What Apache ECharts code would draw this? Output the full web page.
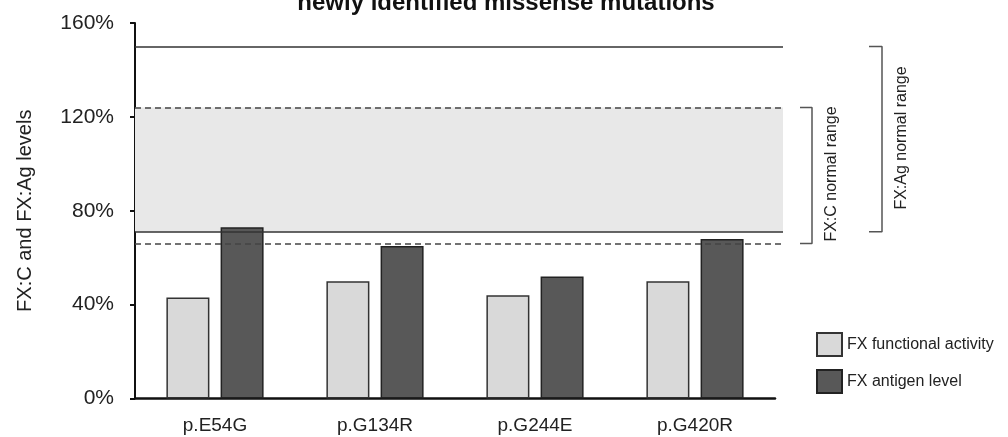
<!DOCTYPE html>
<html>
<head>
<meta charset="utf-8">
<script src="https://cdn.jsdelivr.net/npm/echarts@6/dist/echarts.min.js"></script>
<style>
html,body{margin:0;padding:0;background:#fff;}
#chart{width:1008px;height:437px;}
</style>
</head>
<body>
<div id="chart"></div>
<script>
var categories = ['p.E54G', 'p.G134R', 'p.G244E', 'p.G420R'];
var functionalActivity = [43, 50, 44, 50];
var antigenLevel = [73, 65, 52, 68];
var fxcRange = [66, 124];
var fxagRange = [71, 150];
var yTicks = [0, 40, 80, 120, 160];
var seriesNames = ['FX functional activity', 'FX antigen level'];

var FONT = '"Liberation Sans", Arial, sans-serif';
function bracket(r) { return [[0, r[1]], [1, r[1]], [1, r[0]], [0, r[0]]]; }

var chart = echarts.init(document.getElementById('chart'));
chart.setOption({
  animation: false,
  textStyle: { fontFamily: FONT },
  grid: [
    { left: 135, right: 233, top: 23, bottom: 38.5 },
    { left: 135, right: 225, top: 23, bottom: 38.5 },
    { left: 800, width: 12, top: 23, bottom: 38.5 },
    { left: 869, width: 13, top: 23, bottom: 38.5 }
  ],
  xAxis: [
    { type: 'category', gridIndex: 0, data: categories,
      axisLine: { lineStyle: { color: '#111', width: 2.5 } },
      axisTick: { show: false },
      axisLabel: { color: '#222', fontSize: 19, margin: 18, fontFamily: FONT } },
    { type: 'value', gridIndex: 1, min: 0, max: 1, show: false },
    { type: 'value', gridIndex: 2, min: 0, max: 1, show: false },
    { type: 'value', gridIndex: 3, min: 0, max: 1, show: false }
  ],
  yAxis: [
    { type: 'value', gridIndex: 0, min: yTicks[0], max: yTicks[yTicks.length - 1], interval: 40,
      name: 'FX:C and FX:Ag levels', nameLocation: 'middle', nameGap: 100,
      nameTextStyle: { fontSize: 20, color: '#222', fontFamily: FONT },
      axisLine: { show: true, lineStyle: { color: '#111', width: 2 } },
      axisTick: { show: true, length: 5, lineStyle: { color: '#111', width: 2 } },
      splitLine: { show: false },
      axisLabel: { formatter: '{value}%', fontSize: 21, color: '#222', margin: 21, fontFamily: FONT } },
    { type: 'value', gridIndex: 1, min: 0, max: 160, show: false },
    { type: 'value', gridIndex: 2, min: 0, max: 160, show: false },
    { type: 'value', gridIndex: 3, min: 0, max: 160, show: false }
  ],
  legend: {
    orient: 'vertical', left: 811, top: 327, itemWidth: 25, itemHeight: 23, itemGap: 12,
    icon: 'rect', data: seriesNames,
    textStyle: { fontSize: 16, color: '#222', fontFamily: FONT }
  },
  series: [
    { type: 'line', xAxisIndex: 1, yAxisIndex: 1, data: [], z: 1, silent: true,
      markArea: { silent: true, itemStyle: { color: '#e8e8e8' },
        data: [[{ yAxis: fxagRange[0] }, { yAxis: fxcRange[1] }]] },
      markLine: { silent: true, symbol: 'none', label: { show: false },
        data: [
          { yAxis: fxagRange[1], lineStyle: { type: 'solid', color: '#333', width: 1.5 } },
          { yAxis: fxagRange[0], lineStyle: { type: 'solid', color: '#333', width: 1.5 } },
          { yAxis: fxcRange[1], lineStyle: { type: [6, 4], color: '#444', width: 1.5 } },
          { yAxis: fxcRange[0], lineStyle: { type: [6, 4], color: '#444', width: 1.5 } }
        ] } },
    { name: seriesNames[0], type: 'bar', data: functionalActivity, barWidth: 43, barGap: '26%', z: 3,
      itemStyle: { color: '#d9d9d9', borderColor: '#333', borderWidth: 1.5 } },
    { name: seriesNames[1], type: 'bar', data: antigenLevel, barWidth: 43, z: 3,
      itemStyle: { color: '#585858', borderColor: '#222', borderWidth: 1.5 } },
    { type: 'line', xAxisIndex: 2, yAxisIndex: 2, data: bracket(fxcRange), symbol: 'none', silent: true,
      lineStyle: { color: '#555', width: 1.5 } },
    { type: 'line', xAxisIndex: 3, yAxisIndex: 3, data: bracket(fxagRange), symbol: 'none', silent: true,
      lineStyle: { color: '#555', width: 1.5 } }
  ],
  graphic: [
    { type: 'text', x: 506, y: 3, style: { text: 'newly identified missense mutations',
      font: 'bold 24px ' + FONT, fill: '#111', align: 'center', verticalAlign: 'middle' } },
    { type: 'text', x: 832, y: 174, rotation: Math.PI / 2, style: { text: 'FX:C normal range',
      font: '16px ' + FONT, fill: '#222', align: 'center', verticalAlign: 'middle' } },
    { type: 'text', x: 902, y: 138, rotation: Math.PI / 2, style: { text: 'FX:Ag normal range',
      font: '16px ' + FONT, fill: '#222', align: 'center', verticalAlign: 'middle' } }
  ]
});
</script>
</body>
</html>
